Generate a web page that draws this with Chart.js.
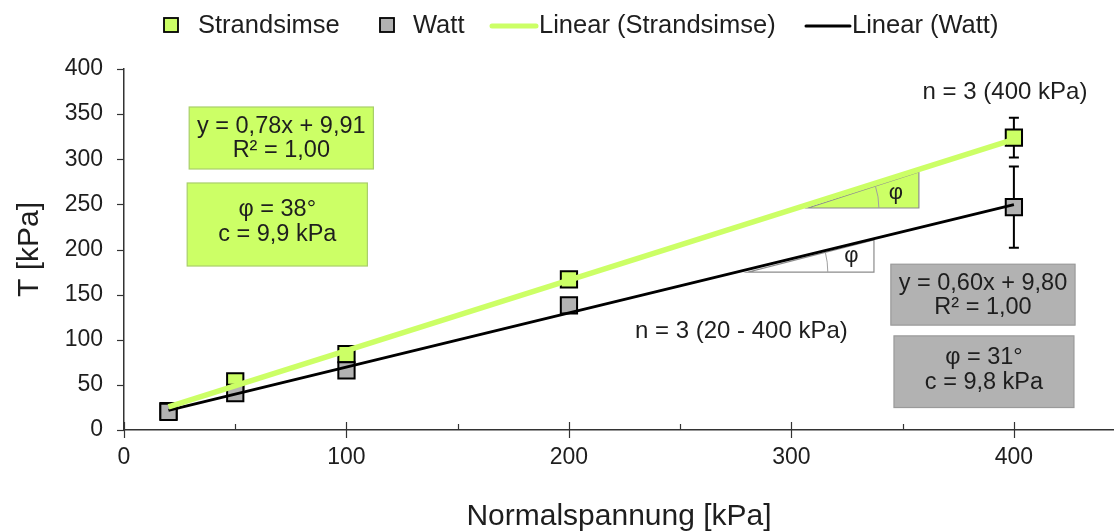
<!DOCTYPE html>
<html><head><meta charset="utf-8">
<script src="https://cdn.jsdelivr.net/npm/chart.js@4.4.1/dist/chart.umd.min.js"></script>
<style>html,body{margin:0;padding:0;background:#fff;overflow:hidden}canvas{display:block}</style>
</head><body><canvas id="c" width="1114" height="531"></canvas>
<script>
// ---- data ----
const normalStress   = [20, 50, 100, 200, 400];
const strandsimseTau = [21, 54, 84, 167, 324];
const strandsimseErr = [2, 3, 3, 4, 22];
const wattTau        = [20, 41, 66, 138, 247];
const wattErr        = [2, 3, 3, 5, 45];
const trendX           = [20, 400];
const strandsimseTrend = [25.5, 322];
const wattTrend        = [21.8, 249.8];
const xTickLabels = [0, 100, 200, 300, 400];
const yTickLabels = [0, 50, 100, 150, 200, 250, 300, 350, 400];
const seriesNames = ['Strandsimse', 'Watt', 'Linear (Strandsimse)', 'Linear (Watt)'];
const boxTexts = {
  strEq:  ['y = 0,78x + 9,91', 'R² = 1,00'],
  strPar: ['φ = 38°', 'c = 9,9 kPa'],
  wattEq: ['y = 0,60x + 9,80', 'R² = 1,00'],
  wattPar:['φ = 31°', 'c = 9,8 kPa']
};
const nTexts = ['n = 3 (400 kPa)', 'n = 3 (20 - 400 kPa)'];

const GREEN = '#CCFF66', GREY = '#B2B2B2', TXT = '#1e1e1e';
const FONT = '"Liberation Sans", Arial, sans-serif';

const pts = (xs, ys) => xs.map((x, i) => ({x, y: ys[i]}));

const customDraw = {
  id: 'customDraw',
  beforeDatasetsDraw(chart) {
    const {ctx, scales: {x, y}} = chart;
    ctx.save();
    // phi triangles
    const tri = (x0, x1, y0, yTop, fill, r, phiX, phiY) => {
      const px0 = x.getPixelForValue(x0), px1 = x.getPixelForValue(x1);
      const py0 = y.getPixelForValue(y0), pyT = y.getPixelForValue(yTop);
      ctx.beginPath();
      ctx.moveTo(px0, py0); ctx.lineTo(px1, py0); ctx.lineTo(px1, pyT); ctx.closePath();
      ctx.fillStyle = fill; ctx.fill();
      ctx.strokeStyle = '#8c8c8c'; ctx.lineWidth = 1.2; ctx.stroke();
      const ang = Math.atan2(py0 - pyT, px1 - px0);
      ctx.beginPath(); ctx.arc(px0, py0, r, -ang, 0);
      ctx.strokeStyle = '#a0a0a0'; ctx.lineWidth = 1; ctx.stroke();
      ctx.fillStyle = TXT; ctx.font = '22px ' + FONT;
      ctx.textAlign = 'center'; ctx.textBaseline = 'middle';
      ctx.fillText('φ', x.getPixelForValue(phiX), y.getPixelForValue(phiY));
    };
    tri(307.4, 357.3, 246, 286, GREEN, 71, 347, 263);
    tri(280.4, 337.1, 175, 210.5, '#ffffff', 80, 327, 192.5);

    // error bars
    const err = (vals, errs) => {
      ctx.strokeStyle = '#000'; ctx.lineWidth = 2;
      normalStress.forEach((xv, i) => {
        const px = x.getPixelForValue(xv);
        const t = y.getPixelForValue(vals[i] + errs[i]);
        const b = y.getPixelForValue(vals[i] - errs[i]);
        ctx.beginPath();
        ctx.moveTo(px, t); ctx.lineTo(px, b);
        ctx.moveTo(px - 5, t); ctx.lineTo(px + 5, t);
        ctx.moveTo(px - 5, b); ctx.lineTo(px + 5, b);
        ctx.stroke();
      });
    };
    err(strandsimseTau, strandsimseErr);
    err(wattTau, wattErr);
    ctx.restore();
  },
  afterDatasetsDraw(chart) {
    const {ctx, scales: {x, y}} = chart;
    ctx.save();
    const box = (x0, x1, yTop, yBot, fill, border, lines, ly) => {
      const a = x.getPixelForValue(x0), b = x.getPixelForValue(x1);
      const t = y.getPixelForValue(yTop), bt = y.getPixelForValue(yBot);
      ctx.fillStyle = fill; ctx.fillRect(a, t, b - a, bt - t);
      ctx.strokeStyle = border; ctx.lineWidth = 1.2; ctx.strokeRect(a, t, b - a, bt - t);
      ctx.fillStyle = TXT; ctx.font = '23.5px ' + FONT;
      ctx.textAlign = 'center'; ctx.textBaseline = 'middle';
      lines.forEach((s, i) => ctx.fillText(s, (a + b) / 2, t + ly[i]));
    };
    box(29.3, 112.1, 357.9, 289.2, GREEN, '#a9cf6a', boxTexts.strEq, [20, 44]);
    box(28.4, 109.4, 273.7, 181.7, GREEN, '#a9cf6a', boxTexts.strPar, [27, 52]);
    box(344.7, 427.5, 183.7, 116.2, GREY, '#9a9a9a', boxTexts.wattEq, [19, 43]);
    box(346.1, 427.0, 104.3, 24.9, GREY, '#9a9a9a', boxTexts.wattPar, [22, 47]);

    ctx.fillStyle = TXT; ctx.font = '24px ' + FONT;
    ctx.textAlign = 'center'; ctx.textBaseline = 'middle';
    ctx.fillText(nTexts[0], x.getPixelForValue(396), y.getPixelForValue(373.9));
    ctx.fillText(nTexts[1], x.getPixelForValue(277.5), y.getPixelForValue(109));

    // axis ticks
    ctx.strokeStyle = '#333'; ctx.lineWidth = 1.2;
    const ya = y.getPixelForValue(0);
    for (let v = 0; v <= 400; v += 50) {
      const px = Math.round(x.getPixelForValue(v)) + 0.5;
      ctx.beginPath();
      if (v % 100 === 0) { ctx.moveTo(px, ya - 8); ctx.lineTo(px, ya + 8); }
      else { ctx.moveTo(px, ya - 6); ctx.lineTo(px, ya); }
      ctx.stroke();
    }
    const xa = x.getPixelForValue(0);
    yTickLabels.forEach(v => {
      const py = Math.round(y.getPixelForValue(v)) + 0.5;
      ctx.beginPath(); ctx.moveTo(xa - 7, py); ctx.lineTo(xa, py); ctx.stroke();
    });
    ctx.restore();
  },
  afterDraw(chart) {
    const {ctx} = chart;
    ctx.save();
    ctx.font = '25.5px ' + FONT; ctx.fillStyle = TXT;
    ctx.textAlign = 'left'; ctx.textBaseline = 'middle';
    const cy = 25;
    const sq = (x0, fill) => {
      ctx.fillStyle = fill; ctx.fillRect(x0, cy - 7, 14, 14);
      ctx.strokeStyle = '#000'; ctx.lineWidth = 1.8; ctx.strokeRect(x0, cy - 7, 14, 14);
    };
    const ln = (x0, x1, col, w) => {
      ctx.strokeStyle = col; ctx.lineWidth = w; ctx.lineCap = 'round';
      ctx.beginPath(); ctx.moveTo(x0, cy + 1); ctx.lineTo(x1, cy + 1); ctx.stroke();
    };
    sq(164, GREEN); ctx.fillStyle = TXT; ctx.fillText(seriesNames[0], 198, cy + 1);
    sq(380, GREY);  ctx.fillStyle = TXT; ctx.fillText(seriesNames[1], 413, cy + 1);
    ln(492, 536, GREEN, 5); ctx.fillStyle = TXT; ctx.fillText(seriesNames[2], 539, cy + 1);
    ln(806, 850, '#000', 3); ctx.fillStyle = TXT; ctx.fillText(seriesNames[3], 852, cy + 1);
    ctx.restore();
  }
};

new Chart(document.getElementById('c'), {
  type: 'scatter',
  data: {
    datasets: [
      { label: seriesNames[2], type: 'line', data: pts(trendX, strandsimseTrend), borderColor: GREEN,
        borderWidth: 5.5, pointRadius: 0, fill: false, order: 0 },
      { label: seriesNames[3], type: 'line', data: pts(trendX, wattTrend), borderColor: '#000',
        borderWidth: 2.8, pointRadius: 0, fill: false, order: 1 },
      { label: seriesNames[1], data: pts(normalStress, wattTau), pointStyle: 'rect', pointRadius: 11.5,
        backgroundColor: GREY, borderColor: '#000', borderWidth: 2, order: 2 },
      { label: seriesNames[0], data: pts(normalStress, strandsimseTau), pointStyle: 'rect', pointRadius: 11.5,
        backgroundColor: GREEN, borderColor: '#000', borderWidth: 2, order: 3 }
    ]
  },
  options: {
    responsive: false, maintainAspectRatio: false, animation: false, devicePixelRatio: 1,
    layout: { autoPadding: false, padding: { top: 69, right: 0, left: 0, bottom: 0 } },
    plugins: { legend: { display: false }, tooltip: { enabled: false } },
    scales: {
      x: {
        type: 'linear', min: 0, max: 445,
        afterFit: s => { s.height = 101; s.paddingRight = 0; s.paddingLeft = 0; },
        grid: { display: true, drawOnChartArea: false, color: 'rgba(0,0,0,0)', tickColor: 'rgba(0,0,0,0)', tickLength: 8 },
        border: { display: true, color: '#333', width: 1.5 },
        afterBuildTicks: s => { s.ticks = xTickLabels.map(v => ({value: v})); },
        ticks: { color: TXT, font: { family: FONT, size: 23 }, padding: 6, maxRotation: 0, autoSkip: false },
        title: { display: true, text: 'Normalspannung [kPa]', color: TXT, font: { family: FONT, size: 30 }, padding: { top: 0, bottom: -4 } }
      },
      y: {
        type: 'linear', min: 0, max: 400,
        afterFit: s => { s.width = 124; },
        grid: { display: true, drawOnChartArea: false, color: 'rgba(0,0,0,0)', tickColor: 'rgba(0,0,0,0)', tickLength: 8 },
        border: { display: true, color: '#333', width: 1.5 },
        afterBuildTicks: s => { s.ticks = yTickLabels.map(v => ({value: v})); },
        ticks: { color: TXT, font: { family: FONT, size: 23 }, padding: 13, autoSkip: false },
        title: { display: true, text: 'T [kPa]', color: TXT, font: { family: FONT, size: 30 }, padding: { top: 12, bottom: 0 } }
      }
    }
  },
  plugins: [customDraw]
});
</script></body></html>
